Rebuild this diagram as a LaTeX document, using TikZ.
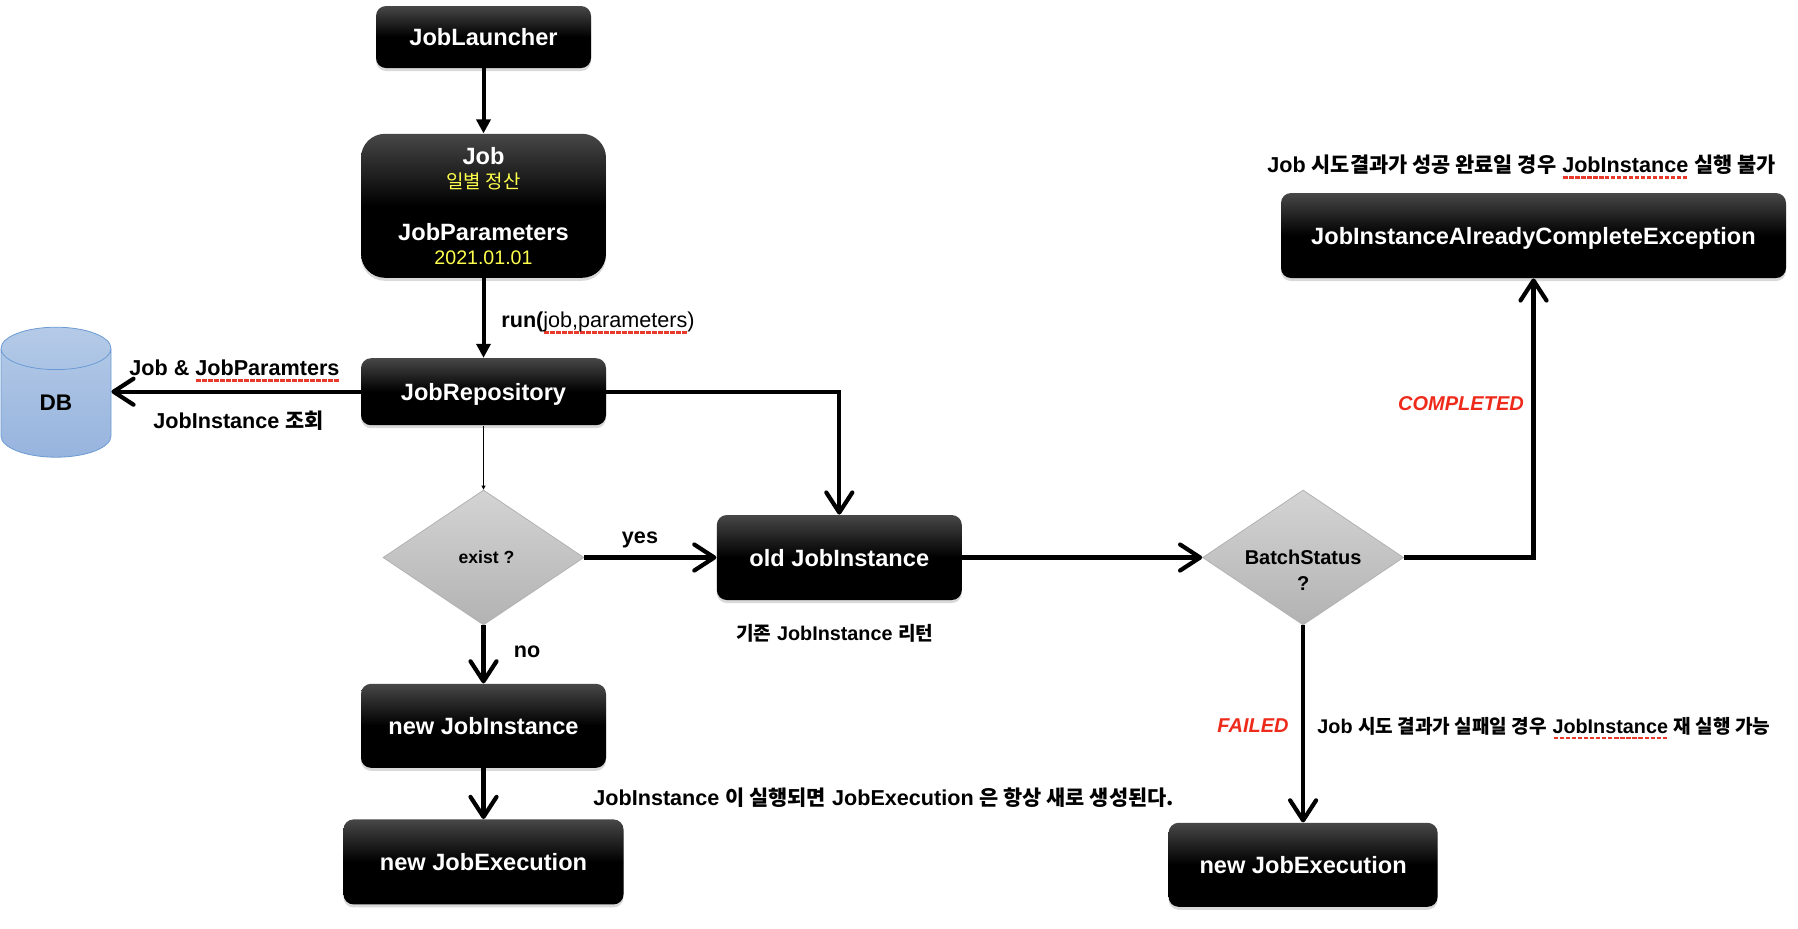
\documentclass[tikz,border=0pt]{standalone}
\usepackage{fontspec}
\setmainfont{Liberation Sans}
\newfontfamily\kr[Scale=0.965]{Noto Sans CJK KR}
\usetikzlibrary{arrows.meta,positioning,shapes.geometric,shadows}
\definecolor{spellred}{HTML}{E8392B}
\definecolor{subyellow}{HTML}{FFFF4D}
\definecolor{statusred}{HTML}{EE2A1B}
\definecolor{dbtop}{HTML}{B4CAE7}
\definecolor{dbbottom}{HTML}{97B4DE}
\definecolor{dbline}{HTML}{6C9BD3}
\newsavebox{\spellbox}
\newcommand{\spell}[1]{\leavevmode\sbox{\spellbox}{#1}\rlap{\smash{\textcolor{spellred}{\raisebox{-3pt}{\hbox to \wd\spellbox{\xleaders\hbox{\kern.35pt\rule{2.2pt}{1.2pt}\kern.35pt}\hfill}}}}}\usebox{\spellbox}}
\newcommand{\yellowtext}[1]{{\color{subyellow}\fontsize{9.8}{13}\selectfont\mdseries #1}}
\newcommand{\lowered}[1]{\smash{\raisebox{-9.8pt}{#1}}}

\begin{document}
\begin{tikzpicture}[
  x=0.5pt, y=-0.5pt,
  font=\fontsize{11.8}{13}\selectfont\bfseries,
  jobbox/.style={rounded corners=5pt, align=center, inner sep=2pt, text=white,
    top color=black!72, bottom color=black, middle color=black,
    drop shadow={shadow xshift=0pt, shadow yshift=-1.5pt, opacity=0.3}},
  oneline/.style={text height=8.6pt, text depth=0pt},
  decision/.style={diamond, aspect=1.49, draw=black!30, line width=0.4pt, align=center, inner sep=0pt,
    top color=black!17, bottom color=black!30, font=\fontsize{10}{13}\selectfont\bfseries},
  arr/.style={-{Triangle[length=7pt,width=7pt]}, line width=2pt},
  openarr/.style={-{Straight Barb[length=10pt,width=13pt,round]}, line width=2.1pt},
  thinarr/.style={-{Triangle[length=2pt,width=2pt]}, line width=0.4pt},
  note/.style={font=\fontsize{10.8}{13}\selectfont\bfseries, inner sep=0pt},
  smallnote/.style={font=\fontsize{9.9}{13}\selectfont\bfseries, inner sep=0pt},
  status/.style={font=\fontsize{10}{13}\selectfont\bfseries\itshape, text=statusred, inner sep=0pt}
]
  \useasboundingbox (0,0) rectangle (1798,928);
  \node[jobbox, oneline, minimum width=107.5pt, minimum height=31pt] (launcher) at (483.5,37) {JobLauncher};
  \node[jobbox, rounded corners=12pt, minimum width=122.5pt, minimum height=72pt, below=32.5pt of launcher] (job) {
    Job\\[-1pt]
    \yellowtext{\kr 일별 정산}\\[13pt]
    JobParameters\\[-1.1pt]
    \yellowtext{2021.01.01}
  };
  \node[jobbox, oneline, minimum width=122.5pt, minimum height=33.5pt, below=39.8pt of job] (repo) {JobRepository};
  \node[decision, minimum width=100.5pt, minimum height=67.5pt, below=32pt of repo,
    font=\fontsize{8.8}{13}\selectfont\bfseries] (exist) {\hspace*{3pt}exist ?};
  \node[jobbox, oneline, minimum width=122.5pt, minimum height=42pt, below=29pt of exist] (newinst) {new JobInstance};
  \node[jobbox, oneline, minimum width=140pt, minimum height=42.5pt, below=25.4pt of newinst] (newexec) {new JobExecution};
  \node[jobbox, oneline, minimum width=122.5pt, minimum height=42.5pt, right=66pt of exist] (oldinst) {old JobInstance};
  \node[decision, minimum width=100.5pt, minimum height=67.5pt, right=120pt of oldinst] (status) {\lowered{BatchStatus}\\\lowered{?}};
  \node[jobbox, oneline, minimum width=134.5pt, minimum height=42pt, below=98.5pt of status] (retryexec) {new JobExecution};
  \node[jobbox, oneline, minimum width=252.5pt, minimum height=42.5pt] (already) at (1533.5,235.5) {JobInstanceAlreadyCompleteException};
  \node[cylinder, shape border rotate=90, aspect=1.3, draw=dbline, line width=0.4pt, inner sep=0pt,
    top color=dbtop, bottom color=dbbottom, minimum width=55pt, minimum height=65pt,
    font=\fontsize{11.3}{13}\selectfont\bfseries] (db) at (56,403) {DB};

  \draw[arr] (launcher) -- (job);
  \draw[arr] (job) -- (repo);
  \draw[thinarr] (repo) -- (exist);
  \draw[openarr] (repo) -- (repo -| db.east);
  \draw[openarr] (repo.east) -| (oldinst.north);
  \draw[openarr] (exist) -- (oldinst);
  \draw[openarr] (exist) -- (newinst);
  \draw[openarr] (newinst) -- (newexec);
  \draw[openarr] (oldinst) -- (status);
  \draw[openarr] (status.east) -| (already.south);
  \draw[openarr] (status) -- (retryexec);

  \node[note, anchor=west] (runlabel) at (501,322) {run(\spell{\mdseries job,parameters}{\mdseries )}};
  \node[note, anchor=west] (dblabel) at (129,368) {Job \& \spell{JobParamters}};
  \node[note, anchor=west] (querylabel) at (153,421) {JobInstance {\kr 조회}};
  \node[note] (yeslabel) at (640,540) {yes};
  \node[note] (nolabel) at (527,652) {no};
  \node[smallnote, anchor=west] (oldnote) at (736,633) {{\kr 기존} JobInstance {\kr 리턴}};
  \node[note, anchor=west] (execnote) at (593,798) {JobInstance {\kr 이 실행되면} JobExecution {\kr 은 항상 새로 생성된다.}};
  \node[note, anchor=west] (donenote) at (1267,165) {Job {\kr 시도결과가 성공 완료일 경우} \spell{JobInstance} {\kr 실행 불가}};
  \node[status] (completed) at (1461,404) {COMPLETED};
  \node[status] (failed) at (1253,726) {FAILED};
  \node[smallnote, anchor=west] (failnote) at (1317,726) {Job {\kr 시도 결과가 실패일 경우} \spell{JobInstance} {\kr 재 실행 가능}};
\end{tikzpicture}
\end{document}
